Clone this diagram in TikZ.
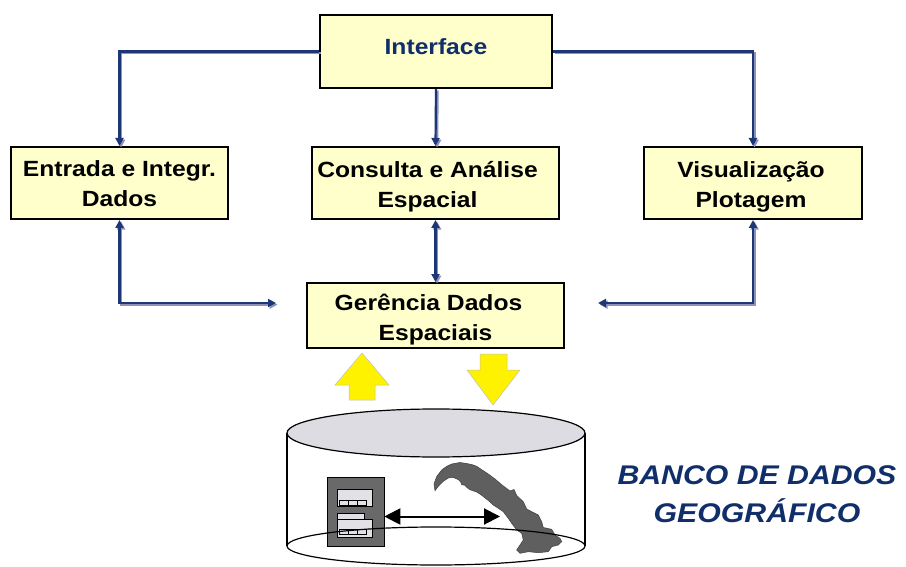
\documentclass[tikz,border=0pt]{standalone}
\usepackage{fontspec}
\setmainfont{Liberation Sans}[FakeStretch=1.12]
\usetikzlibrary{arrows.meta}
\definecolor{navy}{RGB}{16,46,106}
\definecolor{linecol}{RGB}{28,54,118}
\definecolor{shadowcol}{RGB}{140,145,185}
\definecolor{boxfill}{RGB}{255,255,204}
\definecolor{dbgray}{RGB}{220,220,226}
\definecolor{icongray}{RGB}{105,105,105}
\definecolor{mapgray}{RGB}{95,95,95}
\definecolor{recgray}{RGB}{225,225,230}
\newcommand\twoline[2][-3.5pt]{\raisebox{#1}[\height][\depth]{\begin{tabular}{@{}c@{}}#2\end{tabular}}}
\begin{document}
\begin{tikzpicture}[x=1pt,y=-1pt,
  box/.style={draw=black, line width=2pt, fill=boxfill, align=center, inner sep=0pt,
    font=\fontsize{22}{30}\selectfont\bfseries},
  conn/.style={draw=linecol, line width=2.2pt,
    preaction={draw=shadowcol, line width=2.2pt, transform canvas={shift={(1.6pt,-1.6pt)}}}},
  tip/.tip={Triangle[length=8pt,width=8pt]},
  yarrow/.style={fill=yellow, draw=gray!50, line width=0.5pt},
  rec/.style={draw=black, line width=0.6pt, fill=recgray}
]
\useasboundingbox (0,0) rectangle (906,567);
\fill[white] (0,0) rectangle (906,567);

% boxes
\node[box, minimum width=232pt, minimum height=73pt, text=navy] (intf) at (436,51.5)
  {\raisebox{4.5pt}[\height][\depth]{Interface}};
\node[box, minimum width=217pt, minimum height=72pt] (entr) at (119.5,183)
  {\twoline[-3pt]{Entrada e Integr.\\Dados}};
\node[box, minimum width=247pt, minimum height=72pt] (cons) at (435.5,183)
  {\twoline{Consulta e Análise\\Espacial}\hspace*{16pt}};
\node[box, minimum width=218pt, minimum height=72pt] (visu) at (753,183)
  {\twoline{Visualização\\Plotagem}\hspace*{4pt}};
\node[box, minimum width=257pt, minimum height=65pt] (gere) at (435.5,315.5)
  {\twoline[-4pt]{Gerência Dados\hspace*{14pt}\\Espaciais}};

\coordinate (a1) at (276,303);
\coordinate (a2) at (598,303);

% connectors
\draw[conn, -tip] (intf.west) -| (entr.north);
\draw[conn, -tip] (intf.south) -- (cons.north);
\draw[conn, -tip] (intf.east) -| (visu.north);
\draw[conn, tip-tip] (entr.south) |- (a1);
\draw[conn, tip-tip] (visu.south) |- (a2);
\draw[conn, tip-tip] (cons.south) -- (gere.north);

% yellow block arrows
\filldraw[yarrow] (349,400) -- (349,385) -- (335,385) -- (362,353) -- (389,385) -- (375,385) -- (375,400) -- cycle;
\filldraw[yarrow] (480,354) -- (507,354) -- (507,370) -- (520,370) -- (493,405) -- (467,370) -- (480,370) -- cycle;

% cylinder
\draw[line width=1.2pt] (287,433) -- (287,546);
\draw[line width=1.2pt] (585,433) -- (585,546);
\draw[line width=1.2pt, fill=dbgray] (436,433) ellipse [x radius=149pt, y radius=24pt];

% database icon
\node[draw=black, line width=0.6pt, fill=icongray, minimum width=57pt, minimum height=69pt, inner sep=0pt] (icon) at (355.5,511.5) {};
\draw[rec] (337,489) rectangle (372,506);
\draw[rec] (339,500) rectangle (348,505);
\draw[rec] (348,500) rectangle (357,505);
\draw[rec] (357,500) rectangle (366,505);
\draw[rec] (337,513) rectangle (364,519);
\draw[rec] (337,519) rectangle (372,537);
\draw[rec] (339,529) rectangle (348,534);
\draw[rec] (348,529) rectangle (357,534);
\draw[rec] (357,529) rectangle (366,534);

% map
\filldraw[fill=mapgray, draw=black!75, line width=0.5pt]
 (434,484) -- (436.7,476.5) -- (441.7,470) -- (446.7,466.3) -- (451.7,464) -- (460,462.5)
 -- (466.7,463.5) -- (471.7,464.5) -- (476.7,466.3) -- (481.7,469.7) -- (488.3,474) -- (495,479)
 -- (502,485) -- (510,491) -- (514,489.5) -- (516.7,495.5) -- (523.3,501.7) -- (526.7,509)
 -- (531.7,511.7) -- (538.3,515) -- (541.7,521.7) -- (543.3,527.5) -- (551.7,529.3) -- (555,535)
 -- (560,538.3) -- (561.7,541.7) -- (558.3,545) -- (551.7,546.7) -- (548.3,551.7) -- (538.3,552.7)
 -- (528.3,551.7) -- (520,553.3) -- (516.7,550) -- (520,545) -- (523.3,540) -- (521.7,533.3)
 -- (516.7,530) -- (511.7,523.3) -- (508.3,518.3) -- (503.3,511.7) -- (498.3,508.3) -- (493.3,505)
 -- (488.3,500.5) -- (481.7,495.3) -- (476.7,492) -- (470,489.7) -- (466.7,487.3) -- (465,485.3)
 -- (461.7,484.7) -- (460.7,482) -- (458.3,479.7) -- (453.3,477.3) -- (448.3,478) -- (443.3,481.3)
 -- (438.3,486.3) -- (435,490.7) -- cycle;

% bottom ellipse
\draw[line width=1.2pt] (436,546) ellipse [x radius=149pt, y radius=19pt];

% double arrow
\coordinate (mapw) at (500,516.5);
\draw[line width=2pt, {Triangle[length=16pt,width=16pt]}-{Triangle[length=16pt,width=16pt]}]
  ([yshift=-5pt]icon.east) -- (mapw);

% title
\node[text=navy, font=\fontsize{27}{38}\selectfont\bfseries\itshape, align=center] (banco) at (757,494)
  {BANCO DE DADOS\\GEOGRÁFICO};
\end{tikzpicture}
\end{document}
